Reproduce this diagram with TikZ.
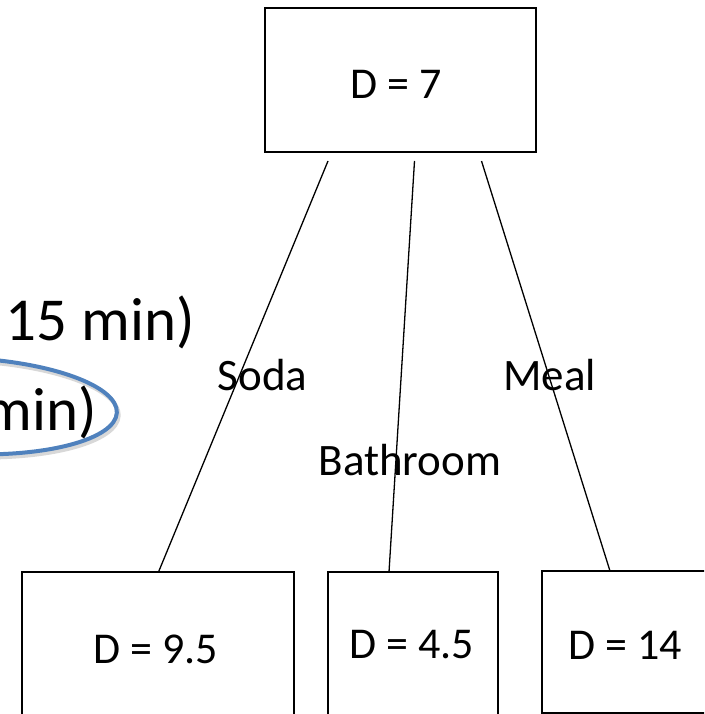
\documentclass[tikz,border=0pt]{standalone}
\usepackage{fontspec}
\setmainfont{Carlito}
\usetikzlibrary{calc}
\definecolor{ringblue}{HTML}{4F81BD}
\tikzset{
  statebox/.style={draw=black, line width=1.5pt, rectangle, inner sep=0pt},
  statetext/.style={anchor=base, inner sep=0pt, font=\fontsize{44}{50}\selectfont},
  edgetext/.style={anchor=base, inner sep=0pt, font=\fontsize{45}{52}\selectfont},
  bigtext/.style={anchor=base east, inner sep=0pt, font=\fontsize{61}{70}\selectfont},
  branch/.style={draw=black, line width=1.3pt}
}
\begin{document}
\begin{tikzpicture}[x=1pt, y=-1pt]
  \useasboundingbox (0,0) rectangle (704,714);
  \clip (0,0) rectangle (704,714);
  \fill[white] (0,0) rectangle (704,714);

  % highlight ring around the second time line, with a faint shadow
  \draw[black!25, line width=4pt, opacity=0.6, rotate around={-2.5:(-35,406)}]
    (-33,409) ellipse [x radius=152, y radius=48];
  \draw[ringblue, line width=4pt, rotate around={-2.5:(-35,406)}]
    (-35,406) ellipse [x radius=152, y radius=48];

  % time lines running in from the left
  \node[bigtext] (t15) at (195,340) {15 min)};
  \node[bigtext] (tmin) at (97,430) {min)};

  % decision boxes
  \node[statebox, minimum width=271pt, minimum height=144pt] (top) at (400.5,80) {};
  \node[statebox, minimum width=272pt, minimum height=200pt] (b1) at (158,672) {};
  \node[statebox, minimum width=170pt, minimum height=200pt] (b2) at (413,672) {};
  \node[statebox, minimum width=200pt, minimum height=142pt] (b3) at (642,642) {};

  \node[statetext] (v0) at (396.5,99) {D = 7};
  \node[statetext] (v1) at (155.5,663) {D = 9.5};
  \node[statetext] (v2) at (412,658) {D = 4.5};
  \node[statetext] (v3) at (625.5,659) {D = 14};

  % branch labels
  \node[edgetext] (lsoda) at (262.5,390) {Soda};
  \node[edgetext] (lbath) at (410,475) {Bathroom};
  \node[edgetext] (lmeal) at (549.5,390) {Meal};

  % branch end points
  \coordinate (s1) at (328,161);
  \coordinate (s2) at (414.5,161);
  \coordinate (s3) at (481.5,161);
  \coordinate (e1) at (158.5,572);
  \coordinate (e2) at (389,572);
  \coordinate (e3) at (610,571);

  \draw[branch] (s1) -- (e1);
  \draw[branch] (s2) -- (e2);
  \draw[branch] (s3) -- (e3);
\end{tikzpicture}
\end{document}
